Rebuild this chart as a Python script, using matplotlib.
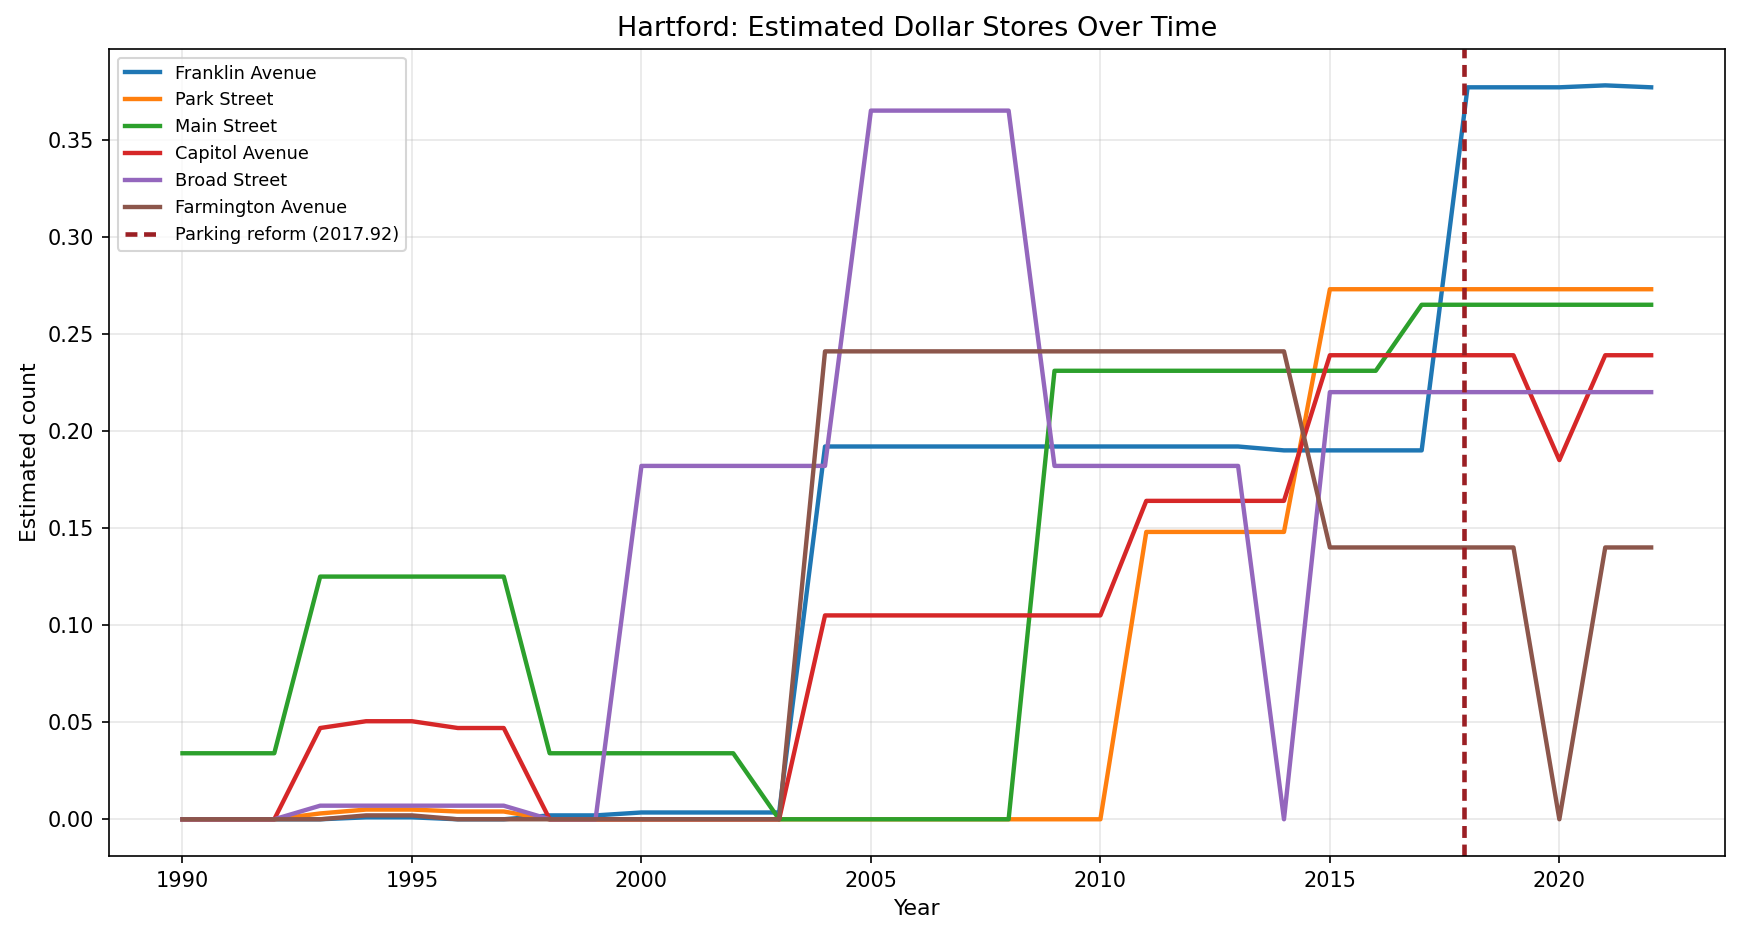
import numpy as np
import matplotlib
matplotlib.use("Agg")
import matplotlib.pyplot as plt

years = list(range(1990, 2023))

franklin = [0, 0, 0, 0, 0.001, 0.001, 0, 0, 0.002, 0.002,
            0.0035, 0.0035, 0.0035, 0.0035, 0.192, 0.192, 0.192, 0.192, 0.192, 0.192,
            0.192, 0.192, 0.192, 0.192, 0.190, 0.190, 0.190, 0.190, 0.377, 0.377,
            0.377, 0.378, 0.377]
park = [0, 0, 0, 0.003, 0.005, 0.005, 0.004, 0.004, 0, 0,
        0, 0, 0, 0, 0, 0, 0, 0, 0, 0,
        0, 0.148, 0.148, 0.148, 0.148, 0.273, 0.273, 0.273, 0.273, 0.273,
        0.273, 0.273, 0.273]
main = [0.034, 0.034, 0.034, 0.125, 0.125, 0.125, 0.125, 0.125, 0.034, 0.034,
        0.034, 0.034, 0.034, 0, 0, 0, 0, 0, 0, 0.231,
        0.231, 0.231, 0.231, 0.231, 0.231, 0.231, 0.231, 0.265, 0.265, 0.265,
        0.265, 0.265, 0.265]
capitol = [0, 0, 0, 0.047, 0.0505, 0.0505, 0.047, 0.047, 0, 0,
           0, 0, 0, 0, 0.105, 0.105, 0.105, 0.105, 0.105, 0.105,
           0.105, 0.164, 0.164, 0.164, 0.164, 0.239, 0.239, 0.239, 0.239, 0.239,
           0.185, 0.239, 0.239]
broad = [0, 0, 0, 0.007, 0.007, 0.007, 0.007, 0.007, 0, 0,
         0.182, 0.182, 0.182, 0.182, 0.182, 0.365, 0.365, 0.365, 0.365, 0.182,
         0.182, 0.182, 0.182, 0.182, 0, 0.220, 0.220, 0.220, 0.220, 0.220,
         0.220, 0.220, 0.220]
farmington = [0, 0, 0, 0, 0.002, 0.002, 0, 0, 0, 0,
              0, 0, 0, 0, 0.241, 0.241, 0.241, 0.241, 0.241, 0.241,
              0.241, 0.241, 0.241, 0.241, 0.241, 0.140, 0.140, 0.140, 0.140, 0.140,
              0, 0.140, 0.140]

series = {
    "Franklin Avenue": franklin,
    "Park Street": park,
    "Main Street": main,
    "Capitol Avenue": capitol,
    "Broad Street": broad,
    "Farmington Avenue": farmington,
}
reform_year = 2017.92

fig, ax = plt.subplots(figsize=(1742 / 150, 936 / 150), dpi=150)
fig.subplots_adjust(left=0.0626, right=0.990, top=0.948, bottom=0.0855)

for name, vals in series.items():
    ax.plot(years, vals, linewidth=2.1, label=name)

ax.axvline(reform_year, color="#9B1F24", linestyle="--", linewidth=2.2,
           dashes=(2.6, 1.45), label=f"Parking reform ({reform_year})")

ax.set_title("Hartford: Estimated Dollar Stores Over Time", fontsize=13)
ax.set_xlabel("Year", fontsize=10.5)
ax.set_ylabel("Estimated count", fontsize=10.5)
ax.grid(alpha=0.3)
ax.legend(loc="upper left", fontsize=8.5)

fig.savefig("out.png", dpi=150)
